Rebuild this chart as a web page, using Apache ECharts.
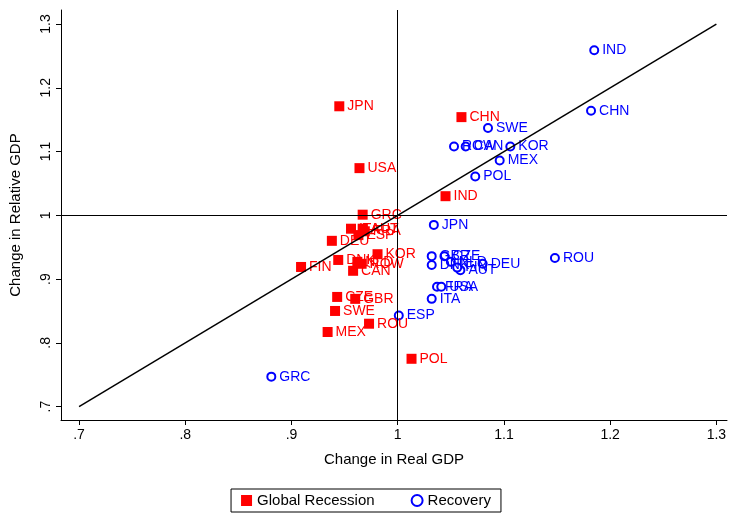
<!DOCTYPE html><html><head><meta charset="utf-8"><script src="https://cdn.jsdelivr.net/npm/echarts@6/dist/echarts.min.js"></script></head><body style="margin:0;background:#fff"><div id="c" style="width:732px;height:514px"></div><script>
const recNames=["JPN","CHN","USA","IND","GRC","ITA","AUT","FRA","ESP","DEU","DNK","NLD","ROW","CAN","KOR","FIN","CZE","GBR","SWE","MEX","ROU","POL"];
const recX=[0.945,1.060,0.964,1.045,0.967,0.956,0.967,0.969,0.963,0.938,0.944,0.962,0.966,0.958,0.981,0.909,0.943,0.960,0.941,0.934,0.973,1.013];
const recY=[1.171,1.154,1.074,1.030,1.001,0.979,0.979,0.975,0.969,0.960,0.930,0.927,0.924,0.913,0.939,0.919,0.872,0.869,0.850,0.817,0.830,0.775];
const recovNames=["IND","CHN","SWE","ROW","CAN","KOR","MEX","POL","JPN","GBR","CZE","DNK","NLD","DEU","AUT","FIN","FRA","USA","ITA","ESP","ROU","GRC"];
const recovX=[1.185,1.182,1.085,1.053,1.064,1.106,1.096,1.073,1.034,1.032,1.044,1.032,1.050,1.080,1.059,1.056,1.037,1.041,1.032,1.001,1.148,0.881];
const recovY=[1.259,1.164,1.137,1.108,1.108,1.108,1.086,1.061,0.985,0.936,0.936,0.922,0.927,0.924,0.914,0.918,0.888,0.888,0.869,0.843,0.933,0.747];
const xTicks=[0.7,0.8,0.9,1.0,1.1,1.2,1.3];
const fmt=v=>{const r=Math.round(v*10)/10;return r===1?'1':(r<1?String(r).replace(/^0/,''):String(r));};
const mk=(n,x,y)=>n.map((s,i)=>({value:[x[i],y[i]],name:s}));
const lbl=c=>({show:true,position:'right',distance:3,formatter:p=>p.name,color:c,fontSize:14,fontFamily:'Liberation Sans'});
const ch=echarts.init(document.getElementById('c'));
ch.setOption({animation:false,
grid:{left:60,right:5,top:10,bottom:94},
xAxis:{type:'value',min:0.683,max:1.310,interval:0.1,
 axisLine:{lineStyle:{color:'#000'}},axisTick:{show:true,customValues:xTicks,length:5,lineStyle:{color:'#000'}},
 axisLabel:{customValues:xTicks,formatter:fmt,color:'#000',fontSize:14,fontFamily:'Liberation Sans'},splitLine:{show:false},
 name:'Change in Real GDP',nameLocation:'middle',nameGap:32,nameTextStyle:{color:'#000',fontSize:15,fontFamily:'Liberation Sans'}},
yAxis:{type:'value',min:0.679,max:1.322,
 axisLine:{show:true,lineStyle:{color:'#000'}},axisTick:{show:true,customValues:xTicks,length:5,lineStyle:{color:'#000'}},
 axisLabel:{customValues:xTicks,formatter:fmt,rotate:90,color:'#000',fontSize:14,fontFamily:'Liberation Sans'},
 splitLine:{show:false},
 name:'Change in Relative GDP',nameLocation:'middle',nameGap:38,nameTextStyle:{color:'#000',fontSize:15,fontFamily:'Liberation Sans'}},
legend:{bottom:2,left:'center',data:['Global Recession','Recovery'],borderColor:'#000',borderWidth:1,borderRadius:0,padding:[4,10],itemGap:36,itemWidth:11,itemHeight:11,textStyle:{fontSize:15,color:'#000',fontFamily:'Liberation Sans'}},
series:[
 {type:'line',data:[[0.7,0.7],[1.3,1.3]],symbol:'none',lineStyle:{color:'#000',width:1.5},silent:true,
  markLine:{silent:true,symbol:'none',label:{show:false},lineStyle:{color:'#000',width:1,type:'solid'},data:[{xAxis:1},{yAxis:1}]}},
 {name:'Global Recession',type:'scatter',symbol:'rect',symbolSize:10,itemStyle:{color:'#ff0000',opacity:1},data:mk(recNames,recX,recY),label:lbl('#ff0000')},
 {name:'Recovery',type:'scatter',symbol:'emptyCircle',symbolSize:8,itemStyle:{color:'#0000ff',borderColor:'#0000ff',borderWidth:1.3,opacity:1},data:mk(recovNames,recovX,recovY),label:lbl('#0000ff')}
]});
</script></body></html>
